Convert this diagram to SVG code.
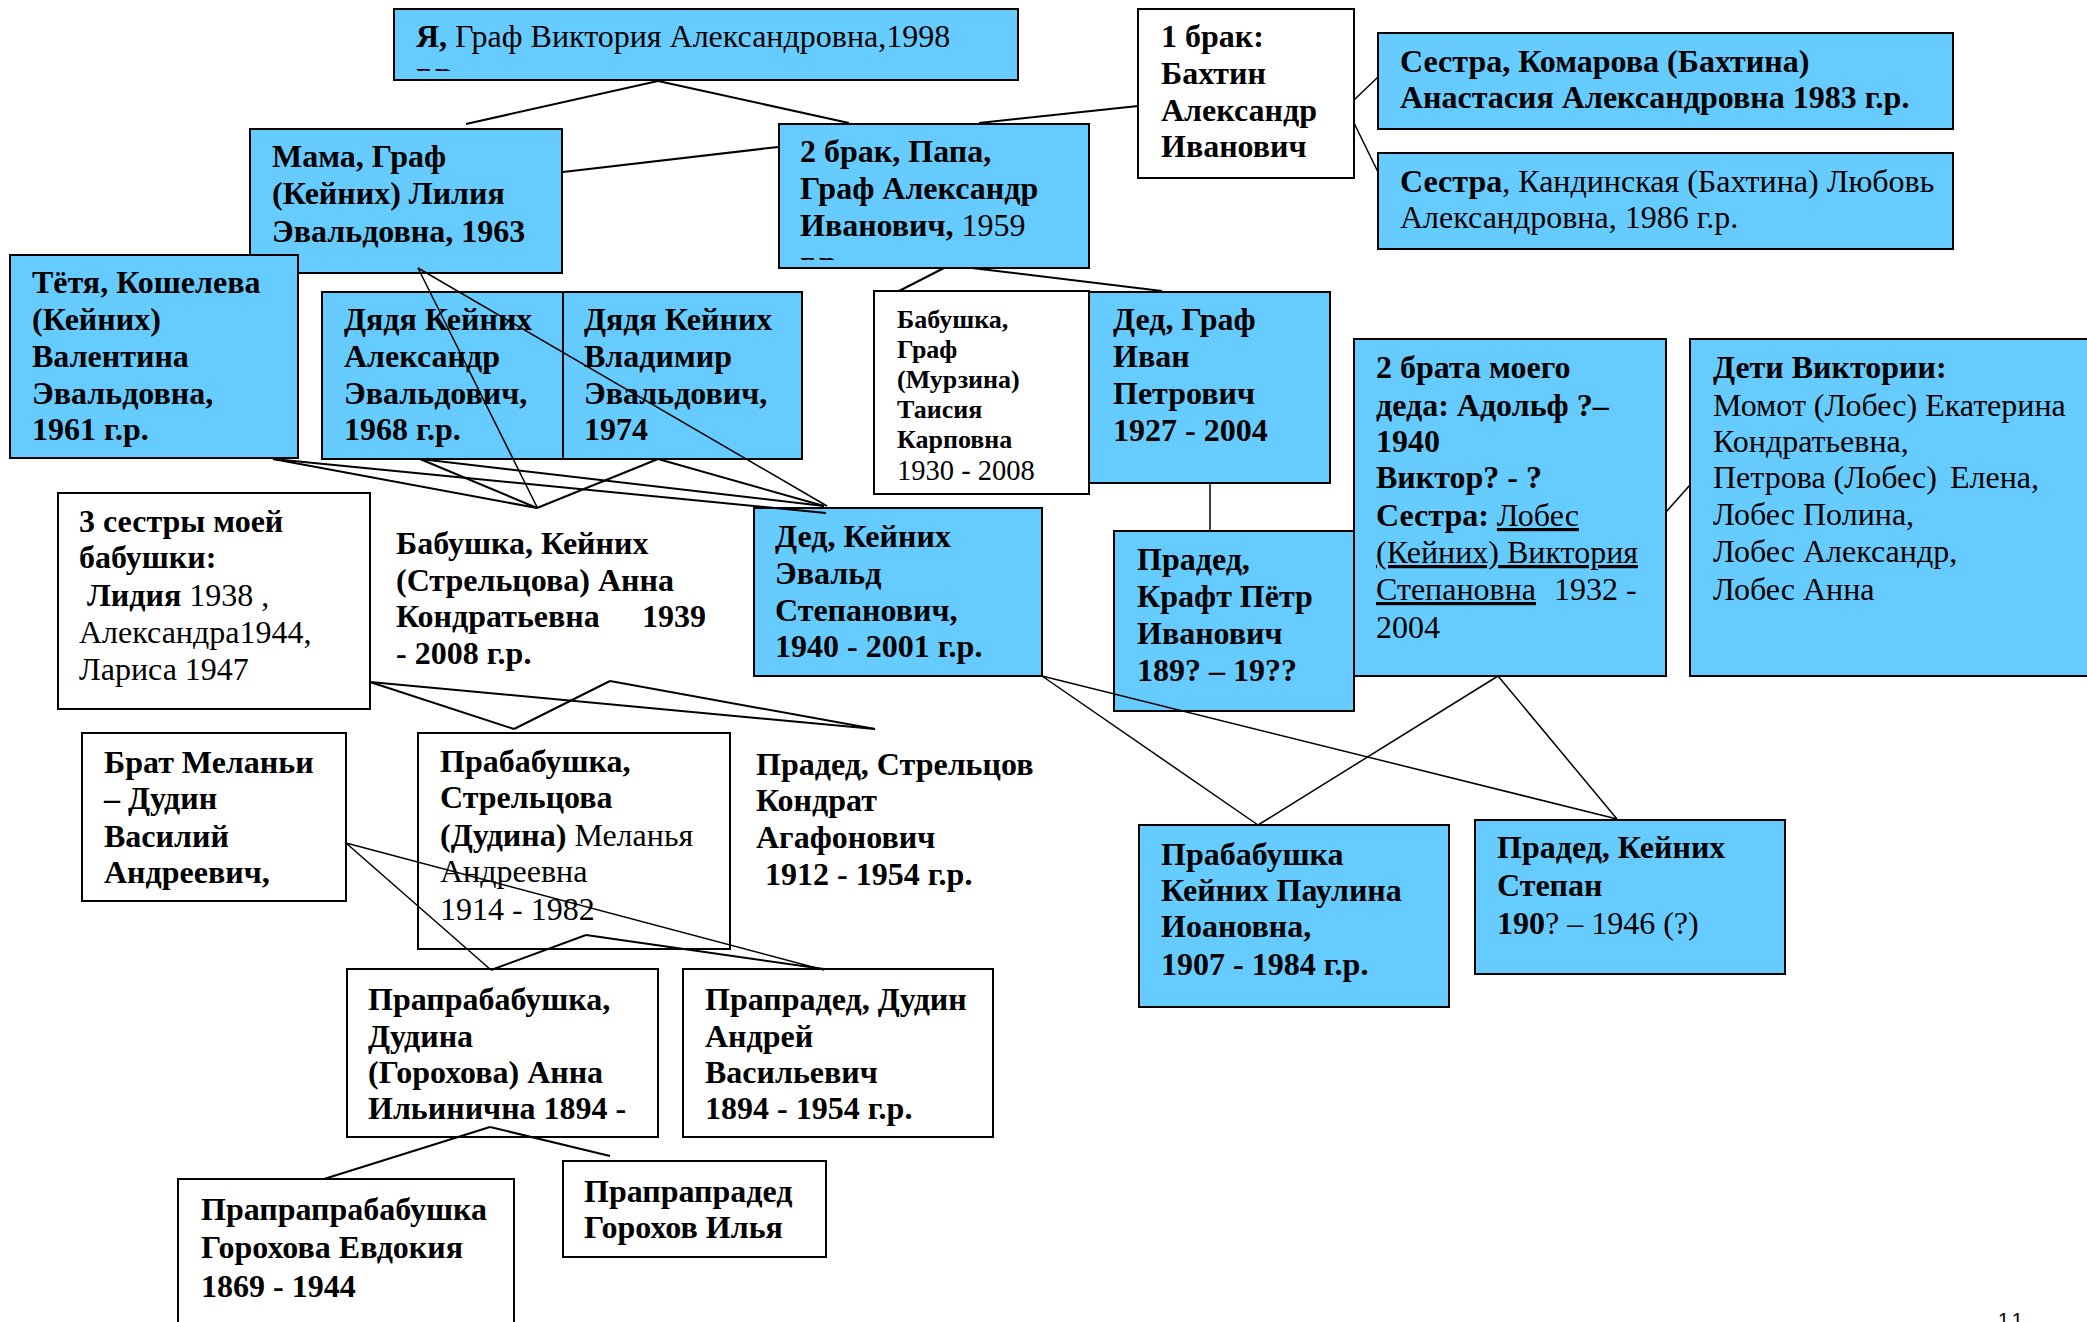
<svg xmlns="http://www.w3.org/2000/svg" width="2087" height="1322" viewBox="0 0 2087 1322">
<style>
.bl{fill:#66CCFF;stroke:#000;stroke-width:2}
.wh{fill:#fff;stroke:#000;stroke-width:2}
text{font-family:"Liberation Serif","Times New Roman",serif;font-size:32px;fill:#000}
.b{font-weight:bold}
.n{font-weight:normal}
.u{text-decoration:underline}
.sm{font-size:26px}
#connectors line{stroke:#000;stroke-width:2}
#connectors line.th{stroke-width:1.5}
</style>
<defs>
<clipPath id="c1"><rect x="394" y="9" width="624" height="62"/></clipPath>
<clipPath id="c2"><rect x="779" y="124" width="310" height="136"/></clipPath>
</defs>
<rect width="2087" height="1322" fill="#fff"/>
<g id="nodes">
<g id="n-ya"><rect class="bl" x="394" y="9" width="624" height="71"/>
<text x="416" y="47"><tspan class="b">Я,</tspan> Граф Виктория Александровна,1998</text>
<text class="b" x="416" y="84" clip-path="url(#c1)">г.р.</text></g>
<g id="n-mama"><rect class="bl" x="250" y="129" width="312" height="144"/>
<text class="b"><tspan x="272" y="167">Мама, Граф</tspan><tspan x="272" y="204">(Кейних) Лилия</tspan><tspan x="272" y="242">Эвальдовна, 1963</tspan></text></g>
<g id="n-papa"><rect class="bl" x="779" y="124" width="310" height="144"/>
<text class="b"><tspan x="800" y="162">2 брак, Папа,</tspan><tspan x="800" y="199">Граф Александр</tspan><tspan x="800" y="236">Иванович,<tspan class="n"> 1959</tspan></tspan></text>
<text class="b" x="800" y="273" clip-path="url(#c2)">г.р.</text></g>
<g id="n-brak1"><rect class="wh" x="1138" y="9" width="216" height="169"/>
<text class="b"><tspan x="1161" y="47">1 брак:</tspan><tspan x="1161" y="84">Бахтин</tspan><tspan x="1161" y="121">Александр</tspan><tspan x="1161" y="157">Иванович</tspan></text></g>
<g id="n-sister1"><rect class="bl" x="1378" y="33" width="575" height="96"/>
<text class="b"><tspan x="1400" y="72">Сестра, Комарова (Бахтина)</tspan><tspan x="1400" y="108">Анастасия Александровна 1983 г.р.</tspan></text></g>
<g id="n-sister2"><rect class="bl" x="1378" y="153" width="575" height="96"/>
<text><tspan x="1400" y="192"><tspan class="b">Сестра</tspan>, Кандинская (Бахтина) Любовь</tspan><tspan x="1400" y="228">Александровна, 1986 г.р.</tspan></text></g>
<g id="n-tetya"><rect class="bl" x="10" y="255" width="288" height="203"/>
<text class="b"><tspan x="32" y="293">Тётя, Кошелева</tspan><tspan x="32" y="330">(Кейних)</tspan><tspan x="32" y="367">Валентина</tspan><tspan x="32" y="404">Эвальдовна,</tspan><tspan x="32" y="440">1961 г.р.</tspan></text></g>
<g id="n-alex"><rect class="bl" x="322" y="292" width="241" height="167"/>
<text class="b"><tspan x="344" y="330">Дядя Кейних</tspan><tspan x="344" y="367">Александр</tspan><tspan x="344" y="404">Эвальдович,</tspan><tspan x="344" y="440">1968 г.р.</tspan></text></g>
<g id="n-vlad"><rect class="bl" x="563" y="292" width="239" height="167"/>
<text class="b"><tspan x="584" y="330">Дядя Кейних</tspan><tspan x="584" y="367">Владимир</tspan><tspan x="584" y="404">Эвальдович,</tspan><tspan x="584" y="440">1974</tspan></text></g>
<g id="n-babgraf"><rect class="wh" x="874" y="291" width="215" height="203"/>
<text class="b sm"><tspan x="897" y="328">Бабушка,</tspan><tspan x="897" y="358">Граф</tspan><tspan x="897" y="388">(Мурзина)</tspan><tspan x="897" y="418">Таисия</tspan><tspan x="897" y="448">Карповна</tspan></text>
<text x="897" y="480" style="font-size:28.5px">1930 - 2008</text></g>
<g id="n-dedgraf"><rect class="bl" x="1089" y="292" width="241" height="191"/>
<text class="b"><tspan x="1113" y="330">Дед, Граф</tspan><tspan x="1113" y="367">Иван</tspan><tspan x="1113" y="404">Петрович</tspan><tspan x="1113" y="441">1927 - 2004</tspan></text></g>
<g id="n-brothers"><rect class="bl" x="1354" y="339" width="312" height="337"/>
<text><tspan class="b" x="1376" y="378">2 брата моего</tspan><tspan class="b" x="1376" y="416">деда: Адольф ?–</tspan><tspan class="b" x="1376" y="452">1940</tspan><tspan class="b" x="1376" y="488">Виктор? - ?</tspan><tspan x="1376" y="526"><tspan class="b">Сестра:</tspan> <tspan class="u">Лобес</tspan></tspan><tspan class="u" x="1376" y="563">(Кейних) Виктория</tspan><tspan x="1376" y="600"><tspan class="u">Степановна</tspan></tspan><tspan x="1554" y="600">1932 -</tspan><tspan x="1376" y="638">2004</tspan></text></g>
<g id="n-children"><rect class="bl" x="1690" y="339" width="410" height="337"/>
<text><tspan class="b" x="1713" y="378">Дети Виктории:</tspan><tspan x="1713" y="416">Момот (Лобес) Екатерина</tspan><tspan x="1713" y="452">Кондратьевна,</tspan><tspan x="1713" y="488">Петрова (Лобес)</tspan><tspan x="1950" y="488">Елена,</tspan><tspan x="1713" y="525">Лобес Полина,</tspan><tspan x="1713" y="562">Лобес Александр,</tspan><tspan x="1713" y="600">Лобес Анна</tspan></text></g>
<g id="n-kraft"><rect class="bl" x="1114" y="531" width="240" height="180"/>
<text class="b"><tspan x="1137" y="570">Прадед,</tspan><tspan x="1137" y="607">Крафт Пётр</tspan><tspan x="1137" y="644">Иванович</tspan><tspan x="1137" y="681">189? – 19??</tspan></text></g>
<g id="n-dedkeinih"><rect class="bl" x="754" y="508" width="288" height="168"/>
<text class="b"><tspan x="775" y="547">Дед, Кейних</tspan><tspan x="775" y="584">Эвальд</tspan><tspan x="775" y="621">Степанович,</tspan><tspan x="775" y="657">1940 - 2001 г.р.</tspan></text></g>
<g id="n-3sisters"><rect class="wh" x="58" y="493" width="312" height="216"/>
<text><tspan class="b" x="79" y="532">3 сестры моей</tspan><tspan class="b" x="79" y="568">бабушки:</tspan><tspan x="79" y="606"> <tspan class="b">Лидия</tspan> 1938 ,</tspan><tspan x="79" y="643">Александра1944,</tspan><tspan x="79" y="680">Лариса 1947</tspan></text></g>
<g id="n-babkeinih">
<text class="b"><tspan x="396" y="554">Бабушка, Кейних</tspan><tspan x="396" y="591">(Стрельцова) Анна</tspan><tspan x="396" y="627">Кондратьевна</tspan><tspan x="642" y="627">1939</tspan><tspan x="396" y="664">- 2008 г.р.</tspan></text></g>
<g id="n-prababstr"><rect class="wh" x="418" y="733" width="312" height="216"/>
<text><tspan class="b" x="440" y="772">Прабабушка,</tspan><tspan class="b" x="440" y="808">Стрельцова</tspan><tspan x="440" y="846"><tspan class="b">(Дудина)</tspan> Меланья</tspan><tspan x="440" y="882">Андреевна</tspan><tspan x="440" y="920">1914 - 1982</tspan></text></g>
<g id="n-pradedstr">
<text class="b"><tspan x="756" y="775">Прадед, Стрельцов</tspan><tspan x="756" y="811">Кондрат</tspan><tspan x="756" y="848">Агафонович</tspan><tspan x="765" y="885">1912 - 1954 г.р.</tspan></text></g>
<g id="n-brat"><rect class="wh" x="82" y="733" width="264" height="168"/>
<text class="b"><tspan x="104" y="773">Брат Меланьи</tspan><tspan x="104" y="809">– Дудин</tspan><tspan x="104" y="847">Василий</tspan><tspan x="104" y="883">Андреевич,</tspan></text></g>
<g id="n-praprabab"><rect class="wh" x="347" y="969" width="311" height="168"/>
<text class="b"><tspan x="368" y="1010">Прапрабабушка,</tspan><tspan x="368" y="1047">Дудина</tspan><tspan x="368" y="1083">(Горохова) Анна</tspan><tspan x="368" y="1119">Ильинична 1894 -</tspan></text></g>
<g id="n-prapraded"><rect class="wh" x="683" y="969" width="310" height="168"/>
<text class="b"><tspan x="705" y="1010">Прапрадед, Дудин</tspan><tspan x="705" y="1047">Андрей</tspan><tspan x="705" y="1083">Васильевич</tspan><tspan x="705" y="1119">1894 - 1954 г.р.</tspan></text></g>
<g id="n-prapraprabab"><rect class="wh" x="178" y="1179" width="336" height="170"/>
<text class="b"><tspan x="201" y="1220">Прапрапрабабушка</tspan><tspan x="201" y="1258">Горохова Евдокия</tspan><tspan x="201" y="1297">1869 - 1944</tspan></text></g>
<g id="n-prapraprded"><rect class="wh" x="563" y="1161" width="263" height="96"/>
<text class="b"><tspan x="584" y="1202">Прапрапрадед</tspan><tspan x="584" y="1238">Горохов Илья</tspan></text></g>
<g id="n-paulina"><rect class="bl" x="1139" y="825" width="310" height="182"/>
<text class="b"><tspan x="1161" y="865">Прабабушка</tspan><tspan x="1161" y="901">Кейних Паулина</tspan><tspan x="1161" y="937">Иоановна,</tspan><tspan x="1161" y="975">1907 - 1984 г.р.</tspan></text></g>
<g id="n-stepan"><rect class="bl" x="1475" y="820" width="310" height="154"/>
<text class="b"><tspan x="1497" y="858">Прадед, Кейних</tspan><tspan x="1497" y="896">Степан</tspan><tspan x="1497" y="934">190<tspan class="n">? – 1946 (?)</tspan></tspan></text></g>
</g>
<g id="connectors">
<line x1="658" y1="81" x2="466" y2="124"/>
<line x1="658" y1="81" x2="849" y2="123"/>
<line x1="563" y1="172" x2="778" y2="147"/>
<line x1="979" y1="123" x2="1138" y2="106"/>
<line class="th" x1="1354" y1="100" x2="1378" y2="77"/>
<line class="th" x1="1354" y1="123" x2="1378" y2="172"/>
<line x1="944" y1="268" x2="899" y2="291"/>
<line x1="972" y1="268" x2="1162" y2="291"/>
<line class="th" x1="1210" y1="483" x2="1210" y2="531"/>
<line x1="273" y1="459" x2="537" y2="508"/>
<line x1="273" y1="459" x2="826" y2="513"/>
<line x1="420" y1="459" x2="537" y2="508"/>
<line x1="420" y1="459" x2="824" y2="506"/>
<line x1="658" y1="459" x2="537" y2="508"/>
<line x1="658" y1="459" x2="824" y2="506"/>
<line class="th" x1="418" y1="268" x2="537" y2="507"/>
<line class="th" x1="418" y1="268" x2="827" y2="506"/>
<line x1="370" y1="682" x2="514" y2="729"/>
<line x1="370" y1="682" x2="875" y2="729"/>
<line x1="610" y1="681" x2="514" y2="729"/>
<line x1="610" y1="681" x2="875" y2="729"/>
<line class="th" x1="346" y1="843" x2="491" y2="970"/>
<line class="th" x1="346" y1="843" x2="824" y2="970"/>
<line x1="586" y1="935" x2="491" y2="970"/>
<line x1="586" y1="935" x2="824" y2="969"/>
<line x1="490" y1="1127" x2="324" y2="1179"/>
<line x1="490" y1="1127" x2="610" y2="1156"/>
<line class="th" x1="1042" y1="676" x2="1258" y2="825"/>
<line class="th" x1="1042" y1="676" x2="1617" y2="819"/>
<line class="th" x1="1498" y1="676" x2="1258" y2="825"/>
<line class="th" x1="1498" y1="676" x2="1617" y2="819"/>
<line class="th" x1="1666" y1="512" x2="1690" y2="485"/>
</g>
<text x="1998" y="1327" style="font-family:'Liberation Sans',Arial,sans-serif;font-size:20px;letter-spacing:4px">11</text>
</svg>
